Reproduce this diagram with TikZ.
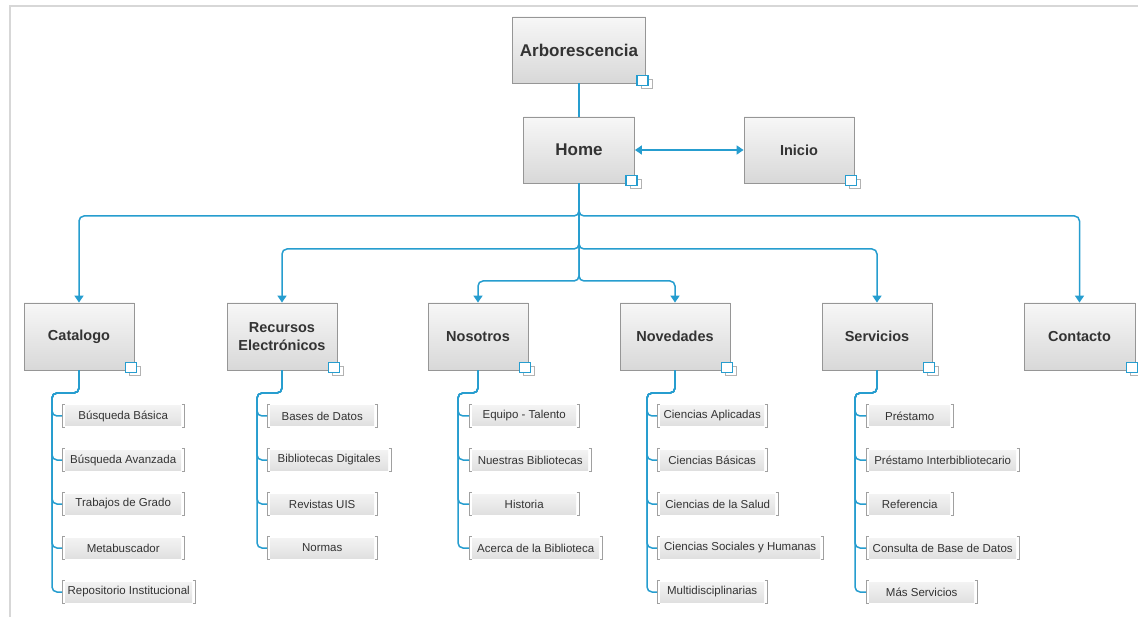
\documentclass[tikz,border=0pt]{standalone}
\usepackage{fontspec}
\setmainfont{Liberation Sans}
\usetikzlibrary{arrows.meta,calc}

\definecolor{link}{RGB}{38,157,207}
\definecolor{txt}{RGB}{51,51,51}
\definecolor{boxline}{RGB}{150,150,150}
\definecolor{boxtop}{RGB}{247,247,247}
\definecolor{boxbot}{RGB}{216,216,216}
\definecolor{itmtop}{RGB}{245,245,245}
\definecolor{itmbot}{RGB}{222,222,222}
\definecolor{brk}{RGB}{160,160,160}
\definecolor{frame}{RGB}{215,215,215}

% small "linked page" icon at the lower right corner of a page box
\newcommand\pageicon[1]{%
  \draw[draw=gray!60, fill=white, line width=0.8pt]
    ($(#1.south east)+(-5,-4)$) rectangle ($(#1.south east)+(6,5)$);
  \draw[draw=link, fill=white, line width=1.2pt]
    ($(#1.south east)+(-9,-8)$) rectangle ($(#1.south east)+(2,2)$);
}

% leaf entry: parent, bend coordinate, name, left x, right x, y, text
\newcommand\leaf[7]{%
  \node[itembox, minimum width={(#5-#4)*1pt}] (#3) at (#4,#6) {#7};
  \draw[brk] ([xshift=2.5pt]#3.north west) -- (#3.north west)
             -- (#3.south west) -- ([xshift=2.5pt]#3.south west);
  \draw[brk] ([xshift=-2.5pt]#3.north east) -- (#3.north east)
             -- (#3.south east) -- ([xshift=-2.5pt]#3.south east);
  \draw[conn, rounded corners=5pt] (#1.south) |- (#2) |- (#3.west);
}

\begin{document}
\begin{tikzpicture}[x=1pt,y=-1pt,
  pagebox/.style={draw=boxline, line width=0.8pt, top color=boxtop,
    bottom color=boxbot, minimum height=66pt, inner sep=2pt, text=txt,
    font=\fontsize{14.5}{18}\selectfont\bfseries, align=center},
  itembox/.style={minimum height=23pt, inner sep=0pt, anchor=west,
    text=txt, font=\fontsize{11.5}{13}\selectfont,
    path picture={\shade[top color=itmtop, bottom color=itmbot]
      ([xshift=3pt,yshift=-1.5pt]path picture bounding box.north west)
      rectangle ([xshift=-3pt,yshift=1.5pt]path picture bounding box.south east);}},
  brk/.style={draw=brk, line width=0.9pt},
  conn/.style={draw=link, line width=1.5pt},
  tip/.style={-{Triangle[width=9pt,length=7pt]}},
]
\useasboundingbox (0,0) rectangle (1138,617);
\fill[white] (0,0) rectangle (1138,617);

% page frame
\draw[frame, line width=2pt] (10,617) -- (10,6) -- (1138,6);

% top nodes
\node[pagebox, minimum width=133pt, font=\fontsize{17}{20}\selectfont\bfseries] (arb) at (579,50) {Arborescencia};
\node[pagebox, minimum width=111pt, font=\fontsize{17}{20}\selectfont\bfseries] (home) at (579,150) {Home};
\node[pagebox, minimum width=110pt] (ini) at (799,150) {Inicio};

% section nodes
\node[pagebox, minimum width=110pt, minimum height=67pt] (cat) at (79,336.5) {Catalogo};
\node[pagebox, minimum width=110pt, minimum height=67pt] (rec) at (282,336.5) {Recursos\\Electrónicos};
\node[pagebox, minimum width=100pt, minimum height=67pt] (nos) at (478,336.5) {Nosotros};
\node[pagebox, minimum width=110pt, minimum height=67pt] (nov) at (675,336.5) {Novedades};
\node[pagebox, minimum width=110pt, minimum height=67pt] (ser) at (877,336.5) {Servicios};
\node[pagebox, minimum width=111pt, minimum height=67pt] (con) at (1079.5,336.5) {Contacto};

% top links
\draw[conn] (arb.south) -- (home.north);
\draw[conn, {Triangle[width=9pt,length=7pt]}-{Triangle[width=9pt,length=7pt]}] (home.east) -- (ini.west);

% branch levels
\coordinate (lv1) at (0,216);
\coordinate (lv2) at (0,249);
\coordinate (lv3) at (0,281);
\draw[conn, tip, rounded corners=5pt] (home.south) -- (home.south |- lv1) -| (cat.north);
\draw[conn, tip, rounded corners=5pt] (home.south) -- (home.south |- lv1) -| (con.north);
\draw[conn, tip, rounded corners=5pt] (home.south) -- (home.south |- lv2) -| (rec.north);
\draw[conn, tip, rounded corners=5pt] (home.south) -- (home.south |- lv2) -| (ser.north);
\draw[conn, tip, rounded corners=5pt] (home.south) -- (home.south |- lv3) -| (nos.north);
\draw[conn, tip, rounded corners=5pt] (home.south) -- (home.south |- lv3) -| (nov.north);

% bend points of the leaf lists
\coordinate (catb) at (52,393);
\coordinate (recb) at (257,393);
\coordinate (nosb) at (458,393);
\coordinate (novb) at (647,393);
\coordinate (serb) at (855,393);

% Catalogo
\leaf{cat}{catb}{c1}{62}{184}{416}{Búsqueda Básica}
\leaf{cat}{catb}{c2}{62}{184}{460}{Búsqueda Avanzada}
\leaf{cat}{catb}{c3}{62}{184}{504}{Trabajos de Grado}
\leaf{cat}{catb}{c4}{62}{184}{548}{Metabuscador}
\leaf{cat}{catb}{c5}{62}{195}{592}{Repositorio Institucional}

% Recursos Electronicos
\leaf{rec}{recb}{r1}{267}{377}{416}{Bases de Datos}
\leaf{rec}{recb}{r2}{267}{391}{460}{Bibliotecas Digitales}
\leaf{rec}{recb}{r3}{267}{377}{504}{Revistas UIS}
\leaf{rec}{recb}{r4}{267}{377}{548}{Normas}

% Nosotros
\leaf{nos}{nosb}{n1}{469}{579}{416}{Equipo - Talento}
\leaf{nos}{nosb}{n2}{469}{591}{460}{Nuestras Bibliotecas}
\leaf{nos}{nosb}{n3}{469}{579}{504}{Historia}
\leaf{nos}{nosb}{n4}{469}{602}{548}{Acerca de la Biblioteca}

% Novedades
\leaf{nov}{novb}{v1}{657}{767}{416}{Ciencias Aplicadas}
\leaf{nov}{novb}{v2}{657}{767}{460}{Ciencias Básicas}
\leaf{nov}{novb}{v3}{657}{778}{504}{Ciencias de la Salud}
\leaf{nov}{novb}{v4}{657}{823}{548}{Ciencias Sociales y Humanas}
\leaf{nov}{novb}{v5}{657}{767}{592}{Multidisciplinarias}

% Servicios
\leaf{ser}{serb}{s1}{866}{953}{416}{Préstamo}
\leaf{ser}{serb}{s2}{866}{1019}{460}{Préstamo Interbibliotecario}
\leaf{ser}{serb}{s3}{866}{953}{504}{Referencia}
\leaf{ser}{serb}{s4}{866}{1019}{548}{Consulta de Base de Datos}
\leaf{ser}{serb}{s5}{866}{977}{592}{Más Servicios}

% page icons
\foreach \n in {arb,home,ini,cat,rec,nos,nov,ser,con} {\pageicon{\n}}
\end{tikzpicture}
\end{document}
